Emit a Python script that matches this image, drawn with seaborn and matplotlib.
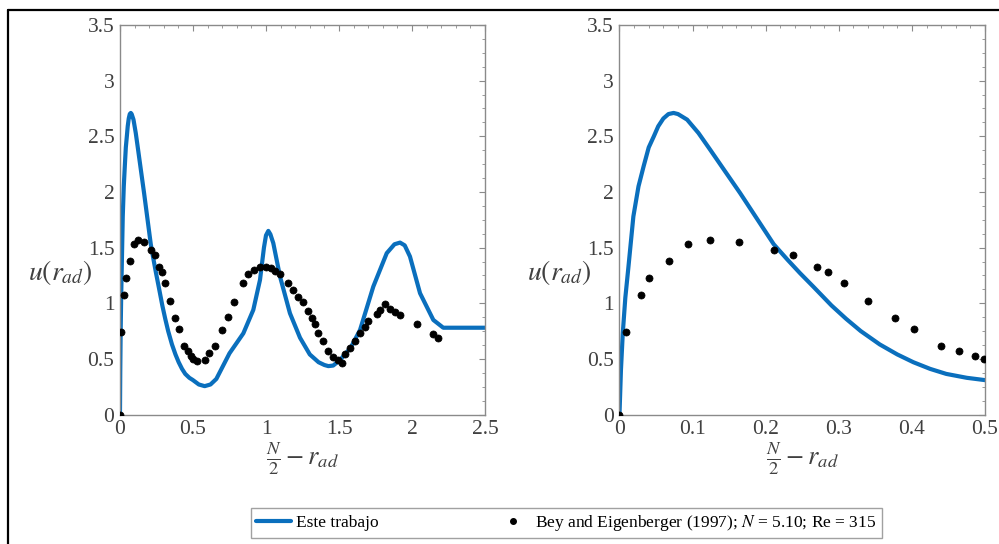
import numpy as np
import pandas as pd
import matplotlib
matplotlib.use("Agg")
import matplotlib.pyplot as plt
from matplotlib.lines import Line2D
from matplotlib.ticker import AutoMinorLocator, FixedLocator, FixedFormatter
import seaborn as sns

# ---------------- data ----------------
# Este trabajo (model curve)
line_x = [0, 0.002, 0.0045, 0.008, 0.0123, 0.019, 0.026, 0.033, 0.04, 0.047, 0.053, 0.06,
          0.067, 0.074, 0.08, 0.0925, 0.108, 0.124, 0.145, 0.165, 0.19, 0.211, 0.23,
          0.247, 0.265, 0.29, 0.31, 0.33, 0.356, 0.38, 0.402, 0.425, 0.447, 0.475,
          0.499, 0.54, 0.58, 0.62, 0.66, 0.75, 0.845, 0.913, 0.959, 0.986, 1.0, 1.016,
          1.03, 1.05, 1.096, 1.164, 1.233, 1.30, 1.36, 1.40, 1.427, 1.46, 1.507, 1.58,
          1.644, 1.735, 1.827, 1.88, 1.918, 1.95, 1.986, 2.055, 2.146, 2.214, 2.5]
line_y = [0, 0.40, 0.73, 1.05, 1.33, 1.78, 2.05, 2.23, 2.40, 2.50, 2.59, 2.66,
          2.70, 2.71, 2.70, 2.65, 2.53, 2.38, 2.18, 1.99, 1.74, 1.53, 1.39,
          1.27, 1.15, 0.98, 0.86, 0.75, 0.63, 0.54, 0.47, 0.41, 0.365, 0.33,
          0.31, 0.27, 0.255, 0.27, 0.32, 0.55, 0.73, 0.94, 1.21, 1.50, 1.61, 1.65,
          1.62, 1.54, 1.24, 0.91, 0.69, 0.54, 0.47, 0.445, 0.435, 0.44, 0.49, 0.60,
          0.76, 1.15, 1.45, 1.53, 1.545, 1.52, 1.42, 1.09, 0.85, 0.78, 0.78]

# Bey and Eigenberger (1997)
bey_x = [0, 0.009, 0.029, 0.040, 0.068, 0.094, 0.124, 0.164, 0.211, 0.238, 0.27, 0.285,
         0.307, 0.34, 0.377, 0.403, 0.44, 0.465, 0.486, 0.499, 0.53, 0.58, 0.612, 0.653,
         0.699, 0.737, 0.778, 0.84, 0.877, 0.918, 0.959, 1.0, 1.036, 1.064, 1.096, 1.153,
         1.187, 1.221, 1.251, 1.29, 1.313, 1.336, 1.358, 1.393, 1.427, 1.461, 1.495, 1.518,
         1.541, 1.575, 1.61, 1.644, 1.678, 1.70, 1.758, 1.78, 1.815, 1.849, 1.884, 1.918,
         2.032, 2.146, 2.18]
bey_y = [0, 0.74, 1.07, 1.23, 1.38, 1.53, 1.57, 1.55, 1.48, 1.43, 1.33, 1.28,
         1.18, 1.02, 0.87, 0.77, 0.62, 0.57, 0.53, 0.50, 0.48, 0.49, 0.55, 0.62,
         0.76, 0.88, 1.01, 1.18, 1.26, 1.30, 1.33, 1.33, 1.32, 1.29, 1.26, 1.18,
         1.12, 1.06, 1.01, 0.93, 0.87, 0.81, 0.73, 0.66, 0.57, 0.52, 0.49, 0.46,
         0.54, 0.60, 0.66, 0.73, 0.79, 0.84, 0.90, 0.94, 0.99, 0.95, 0.92, 0.89,
         0.81, 0.72, 0.69]

left_xticks = [0, 0.5, 1, 1.5, 2, 2.5]
left_xlabels = ["0", "0.5", "1", "1.5", "2", "2.5"]
right_xticks = [0, 0.1, 0.2, 0.3, 0.4, 0.5]
right_xlabels = ["0", "0.1", "0.2", "0.3", "0.4", "0.5"]
yticks = [0, 0.5, 1, 1.5, 2, 2.5, 3, 3.5]
ylabels = ["0", "0.5", "1", "1.5", "2", "2.5", "3", "3.5"]

label_line = "Este trabajo"
label_dots = r"Bey and Eigenberger (1997); $N$ = 5.10; Re = 315"

# ---------------- style ----------------
sns.set_style("white")
plt.rcParams["font.family"] = ["Liberation Serif", "DejaVu Serif"]
plt.rcParams["mathtext.fontset"] = "stix"

BLUE = "#0a6fbd"
GREY = "#8a8a8a"
TXT = "#404040"

df_line = pd.DataFrame({"x": line_x, "y": line_y})
df_dots = pd.DataFrame({"x": bey_x, "y": bey_y})

fig = plt.figure(figsize=(9.99, 5.44), dpi=100)
ax1 = fig.add_axes([0.1201, 0.238, 0.3654, 0.716])
ax2 = fig.add_axes([0.6201, 0.238, 0.3659, 0.716])

for ax, xt, xl, xmax in [(ax1, left_xticks, left_xlabels, 2.5),
                          (ax2, right_xticks, right_xlabels, 0.5)]:
    sns.lineplot(data=df_line, x="x", y="y", ax=ax, color=BLUE, lw=3.0,
                 sort=False, label=label_line, legend=False, zorder=2)
    sns.scatterplot(data=df_dots, x="x", y="y", ax=ax, color="black", s=26,
                    edgecolor="black", linewidth=0.5, label=label_dots,
                    legend=False, zorder=3)
    ax.set_xlim(0, xmax)
    ax.set_ylim(0, 3.5)
    ax.xaxis.set_major_locator(FixedLocator(xt))
    ax.xaxis.set_major_formatter(FixedFormatter(xl))
    ax.yaxis.set_major_locator(FixedLocator(yticks))
    ax.yaxis.set_major_formatter(FixedFormatter(ylabels))
    ax.xaxis.set_minor_locator(AutoMinorLocator(5))
    ax.yaxis.set_minor_locator(AutoMinorLocator(4))
    ax.tick_params(which="both", direction="in", top=True, right=True,
                   color=GREY, labelcolor=TXT, labelsize=15.5)
    ax.tick_params(which="major", length=4, width=0.8, pad=4)
    ax.tick_params(which="minor", length=2, width=0.6)
    for sp in ax.spines.values():
        sp.set_color(GREY)
        sp.set_linewidth(1.0)
        sp.set_visible(True)
    ax.set_xlabel(r"$\frac{N}{2} - r_{ad}$", fontsize=19, color=TXT, labelpad=1)
    ax.set_ylabel(r"$u(r_{ad})$", fontsize=20, color=TXT, rotation=0,
                  va="center", ha="center")
    ax.yaxis.set_label_coords(-0.165, 0.365)
    for c in ax.collections:
        c.set_clip_on(True)

handles = [Line2D([], [], color=BLUE, lw=3.0),
           Line2D([], [], ls="none", marker="o", color="black", markersize=4)]
leg = fig.legend(handles, [label_line, label_dots], loc="center",
                 bbox_to_anchor=(0.567, 0.0386), ncol=2, frameon=True,
                 fancybox=False, edgecolor=GREY, fontsize=12.5,
                 handlelength=2.0, handletextpad=0.3, columnspacing=6.7,
                 borderpad=0.3, labelcolor="black")
leg.get_frame().set_linewidth(1.0)

# outer frame (top and left edges visible)
fig.add_artist(Line2D([8 / 999, 8 / 999], [0, 1 - 10 / 544], transform=fig.transFigure,
                      color="black", lw=1.6))
fig.add_artist(Line2D([8 / 999, 1.0], [1 - 10 / 544, 1 - 10 / 544], transform=fig.transFigure,
                      color="black", lw=1.6))

fig.savefig("out.png", dpi=100)
